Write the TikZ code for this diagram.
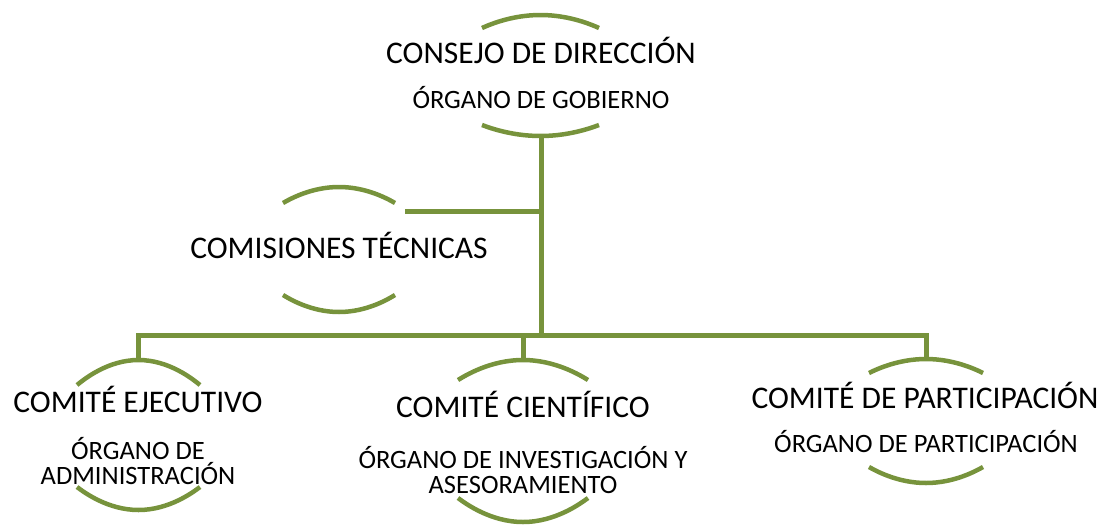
\documentclass[tikz,border=0pt]{standalone}
\usepackage{fontspec}
\setmainfont{Carlito}
\usetikzlibrary{positioning}
\definecolor{leaf}{RGB}{119,147,60}

\begin{document}
\begin{tikzpicture}[x=1pt, y=-1pt, line width=5pt, anchor=base,
  big/.style={font=\fontsize{31.5}{34}\selectfont},
  small/.style={font=\fontsize{26.5}{28}\selectfont},
  ring/.style={draw=leaf, line width=4.5pt},
  link/.style={draw=leaf, line width=5pt}]
\useasboundingbox (0,0) rectangle (1108,525);

\node[big] (1) at (541,63) {CONSEJO DE DIRECCIÓN};
\node[small] (1s) at (541,108) {ÓRGANO DE GOBIERNO};
\node[big] (2) at (339,258) {COMISIONES TÉCNICAS};
\node[big] (3) at (138,412) {COMITÉ EJECUTIVO};
\node[small] (3s) at (138,459) {ÓRGANO DE};
\node[small] (3t) at (138,484) {ADMINISTRACIÓN};
\node[big] (4) at (523,417) {COMITÉ CIENTÍFICO};
\node[small] (4s) at (523,468) {ÓRGANO DE INVESTIGACIÓN Y};
\node[small] (4t) at (523,493) {ASESORAMIENTO};
\node[big] (5) at (925,408) {COMITÉ DE PARTICIPACIÓN};
\node[small] (5s) at (926,452) {ÓRGANO DE PARTICIPACIÓN};

% arcs round each box
\draw[ring] (482,28) parabola bend (540.5,15) (599,28);
\draw[ring] (482,125) parabola bend (540.5,136) (599,125);
\draw[ring] (283,203) parabola bend (339,187) (395,203);
\draw[ring] (283,295) parabola bend (339,312) (395,295);
\draw[ring] (77,385) parabola bend (138.5,360) (200,385);
\draw[ring] (77,487) parabola bend (138.5,510) (200,487);
\draw[ring] (458,380) parabola bend (523,360) (588,380);
\draw[ring] (458,498) parabola bend (523,522) (588,498);
\draw[ring] (869,373) parabola bend (926,359) (983,373);
\draw[ring] (869,467) parabola bend (926,483) (983,467);

\coordinate (1b) at (541,135);
\coordinate (2r) at (405,211);
\coordinate (bus) at (541,335);
\coordinate (3a) at (138,360);
\coordinate (4a) at (523,360);
\coordinate (5a) at (926,359);

\draw[link] (1b) -- (bus);
\draw[link] (2r) -- (2r -| bus);
\draw[link] (3a) |- (bus) -| (5a);
\draw[link] (4a) -- (4a |- bus);
\end{tikzpicture}
\end{document}
